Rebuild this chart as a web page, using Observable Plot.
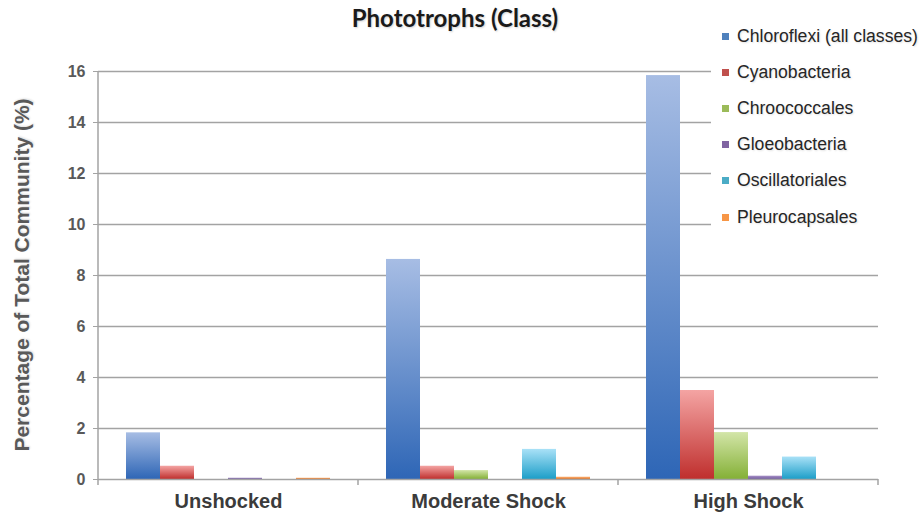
<!DOCTYPE html>
<html>
<head>
<meta charset="utf-8">
<script src="https://cdn.jsdelivr.net/npm/d3@7"></script>
<script src="https://cdn.jsdelivr.net/npm/@observablehq/plot@0.6"></script>
<style>
  html, body { margin: 0; padding: 0; background: #fff; }
  #wrap { position: relative; width: 922px; height: 514px; overflow: hidden; }
  #title { position: absolute; left: 0; width: 910px; top: 3px; text-align: center;
    font-family: Lato, "Open Sans", sans-serif; font-weight: 700; font-size: 24px; color: #1a1a1a;
    text-shadow: 1px 1px 2px rgba(0,0,0,0.18); }
  #ytitle { position: absolute; left: 22px; top: 275px; transform: translate(-50%, -50%) rotate(-90deg);
    white-space: nowrap; font-family: "Liberation Sans", Arial, sans-serif; font-weight: 700; font-size: 21px; color: #595959;
    text-shadow: 1px 1px 2px rgba(0,0,0,0.12); }
  #legend { position: absolute; left: 711px; top: 20px; width: 211px; height: 218px; background: #fff; }
  .item { position: absolute; left: 11px; height: 20px; display: flex; align-items: center;
    font-family: "Liberation Sans", Arial, sans-serif; font-size: 17.6px; color: #262626; white-space: nowrap;
    text-shadow: 1px 1px 2px rgba(0,0,0,0.12); }
  .sw { width: 7px; height: 7px; margin-right: 8px; }
  svg text { font-family: "Liberation Sans", Arial, sans-serif; }
</style>
</head>
<body>
<div id="wrap">
  <div id="chart"></div>
  <div id="title">Phototrophs (Class)</div>
  <div id="ytitle">Percentage of Total Community (%)</div>
  <div id="legend"></div>
</div>
<script>
const groups = ["Unshocked", "Moderate Shock", "High Shock"];
const series = ["Chloroflexi (all classes)", "Cyanobacteria", "Chroococcales", "Gloeobacteria", "Oscillatoriales", "Pleurocapsales"];
const chloroflexi    = [1.83, 8.63, 15.84];
const cyanobacteria  = [0.52, 0.52, 3.49];
const chroococcales  = [0.00, 0.35, 1.84];
const gloeobacteria  = [0.05, 0.00, 0.13];
const oscillatoriales = [0.00, 1.18, 0.88];
const pleurocapsales = [0.05, 0.09, 0.00];
const yTicks = [0, 2, 4, 6, 8, 10, 12, 14, 16];

const seriesValues = [chloroflexi, cyanobacteria, chroococcales, gloeobacteria, oscillatoriales, pleurocapsales];
const swatch = ["#4f81bd", "#c0504d", "#9bbb59", "#8064a2", "#4bacc6", "#f79646"];
const gradTop = ["#a7bde4", "#f4a4a3", "#d3e5a8", "#a892c6", "#a9e1f7", "#fbb57a"];
const gradBot = ["#2e66b6", "#bf2f2d", "#84b036", "#7059a0", "#1c9ec8", "#e8701c"];

const data = [];
series.forEach((s, i) => groups.forEach((g, j) => data.push({group: g, series: s, value: seriesValues[i][j]})));

const chart = Plot.plot({
  width: 922,
  height: 514,
  marginTop: 71,
  marginBottom: 35,
  marginLeft: 97,
  marginRight: 44,
  style: {background: "transparent", overflow: "visible"},
  fx: {domain: groups, padding: 0},
  x: {domain: series, paddingInner: 0, paddingOuter: 0.75, axis: null},
  y: {domain: [0, 16], axis: null},
  color: {domain: series, range: series.map((s, i) => `url(#grad${i})`)},
  marks: [
    Plot.gridY(yTicks.slice(1), {stroke: "#a3a3a3", strokeOpacity: 1, strokeWidth: 1.5}),
    Plot.barY(data, {fx: "group", x: "series", y: "value", fill: "series"}),
    Plot.ruleY([0], {stroke: "#a3a3a3", strokeWidth: 1.5}),
    Plot.axisY(yTicks, {tickSize: 5, tickPadding: 8, stroke: "#a3a3a3", fontSize: 16, fontWeight: "bold", fill: "#595959", label: null, facetAnchor: "left"}),
    Plot.axisFx({anchor: "bottom", tickSize: 0, tickPadding: 14, fontSize: 20, fontWeight: "bold", fill: "#3b3b3b", label: null})
  ]
});

// gradients
const svg = d3.select(chart);
const defs = svg.insert("defs", ":first-child");
series.forEach((s, i) => {
  const lg = defs.append("linearGradient").attr("id", `grad${i}`).attr("x1", 0).attr("y1", 0).attr("x2", 0).attr("y2", 1);
  lg.append("stop").attr("offset", "0%").attr("stop-color", gradTop[i]);
  lg.append("stop").attr("offset", "100%").attr("stop-color", gradBot[i]);
});

// axis line and group divider ticks, from the plot's own scales
const ys = chart.scale("y");
const fxs = chart.scale("fx");
const y0 = ys.apply(0), y16 = ys.apply(16);
const left = fxs.apply(groups[0]);
const bw = fxs.bandwidth;
svg.append("line").attr("x1", left).attr("x2", left).attr("y1", y16).attr("y2", y0)
  .attr("stroke", "#a3a3a3").attr("stroke-width", 1.5);
const edges = [left, ...groups.map(g => fxs.apply(g) + bw)];
edges.forEach(x => svg.append("line").attr("x1", x).attr("x2", x).attr("y1", y0).attr("y2", y0 + 6)
  .attr("stroke", "#a3a3a3").attr("stroke-width", 1.5));

document.getElementById("chart").appendChild(chart);

// legend
const legend = d3.select("#legend");
series.forEach((s, i) => {
  const it = legend.append("div").attr("class", "item").style("top", `${6 + i * 36.2}px`);
  it.append("div").attr("class", "sw").style("background", swatch[i]);
  it.append("span").text(s);
});
</script>
</body>
</html>
